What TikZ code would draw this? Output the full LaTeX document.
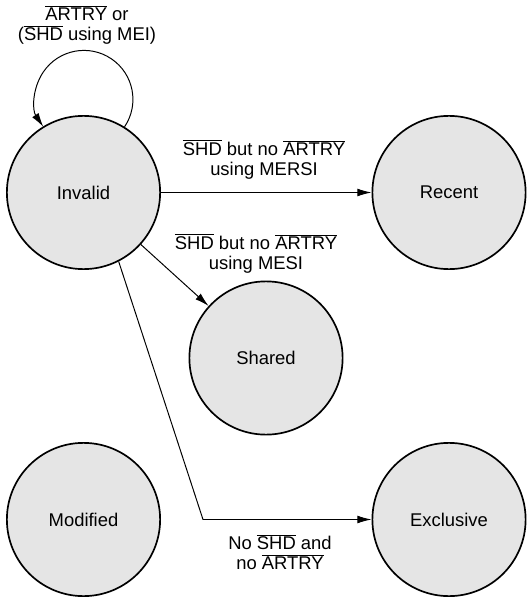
\documentclass[tikz,border=0pt]{standalone}
\usepackage{fontspec}
\setmainfont{Liberation Sans}
\usepackage{tikz}
\usetikzlibrary{arrows.meta}

\newcommand{\nq}[1]{$\overline{\mbox{#1}}$}

\begin{document}
\begin{tikzpicture}[zustand/.style={draw, circle, fill=gray!20, line width=1.2pt, minimum size=3.83cm, inner sep=0pt}, x=0.025cm, y=0.025cm,
			>={Latex[length=10pt,width=5.5pt]},   %Pfeilspitzen
			font=\fontsize{13.1}{14}\selectfont, line width=0.7pt]
			%Rahmen festlegen
			\useasboundingbox (0,0) rectangle (527,-597);
			% Zustaende zeichnen
			\node[zustand] (inv) at (83.5,-192.5) {Invalid};
			\node[zustand] (rec) at (449,-192.5) {Recent};
			\node[zustand] (sha) at (266,-358) {Shared};
			\node[zustand] (mod) at (83.5,-519.5) {Modified};
			\node[zustand] (exc) at (449,-519.5) {Exclusive};
			% Uebergaenge zeichnen
			\draw[->] (inv.58) arc[start angle=-34, end angle=214, radius=49];
			\draw[->] (inv) -- (rec);
			\draw[->] (inv) -- (sha);
			\coordinate (knick) at (203,-519.5);
			\draw[->] (inv.-63.6) -- (knick) -- (exc);
			% Uebergaenge beschriften
			\node[align=center] (lschleife) at (87,-25) {\nq{ARTRY} or\\(\nq{SHD} using MEI)};
			\node[align=center] (lrec) at (264,-159.5) {\nq{SHD} but no \nq{ARTRY}\\using MERSI};
			\node[align=center] (lsha) at (256,-253.5) {\nq{SHD} but no \nq{ARTRY}\\using MESI};
			\node[align=center] (lexc) at (280,-552) {No \nq{SHD} and\\no \nq{ARTRY}};
\end{tikzpicture}
\end{document}
